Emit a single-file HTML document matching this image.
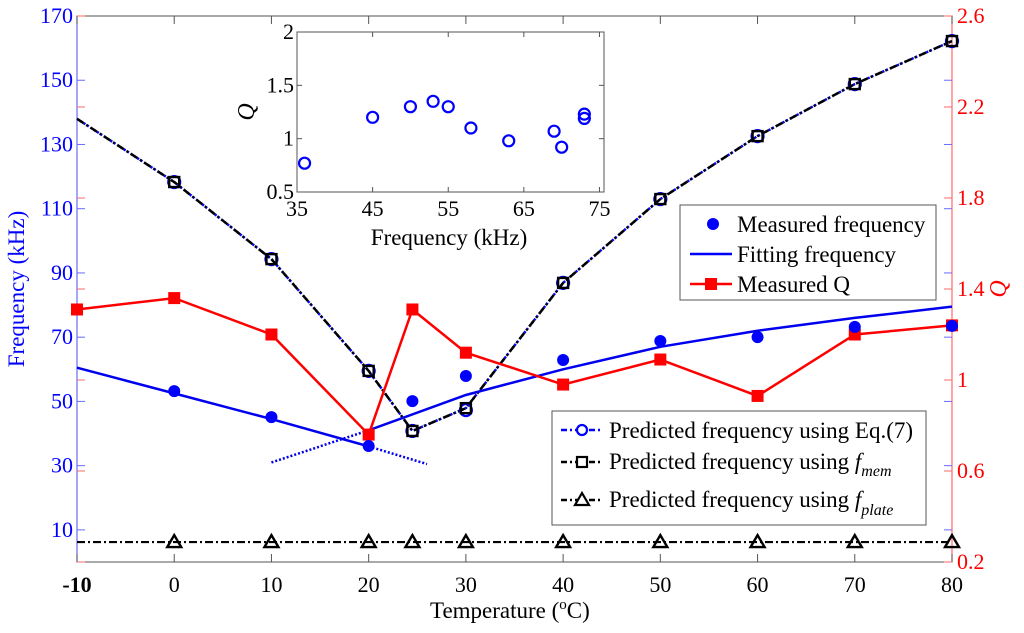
<!DOCTYPE html>
<html><head><meta charset="utf-8"><style>
html,body{margin:0;padding:0;background:#fff;}
svg, svg text{font-family:"Liberation Serif","Times New Roman","DejaVu Serif",serif;}
svg{display:block;}
</style></head><body>
<svg id="chart" width="1024" height="633" viewBox="0 0 1024 633" font-family="Liberation Serif, DejaVu Serif, serif"></svg>
<script>
// ---- data ----
const tempsQ = [-10, 0, 10, 20, 24.5, 30, 40, 50, 60, 70, 80];
const measuredQ = [1.31, 1.36, 1.20, 0.76, 1.31, 1.12, 0.98, 1.09, 0.93, 1.20, 1.24];
const tempsMeas = [0, 10, 20, 24.5, 30, 40, 50, 60, 70, 80];
const measuredFreq = [53.2, 45.1, 36.1, 50.1, 57.9, 62.9, 68.8, 70, 73.2, 73.5];
const tempsFit1 = [-10, 0, 10, 20];
const fitFreq1 = [60.5, 52.5, 44.5, 36];
const tempsFit1Dot = [20, 26];
const fitFreq1Dot = [36, 30.5];
const tempsFit2 = [20, 30, 40, 50, 60, 70, 80];
const fitFreq2 = [41, 52, 60, 67, 72, 76, 79.5];
const tempsFit2Dot = [10, 20];
const fitFreq2Dot = [31, 41];
const tempsMem = [-10, 0, 10, 20, 24.5, 30, 40, 50, 60, 70, 80];
const memFreq = [138, 118.3, 94.3, 59.5, 40.8, 47.9, 86.9, 113, 132.6, 148.8, 162.2];
const eq7Temps = [0, 10, 20, 24.5, 30, 40, 50, 60, 70, 80];
const eq7Freq = [118.3, 94.3, 59.5, 40.8, 47.3, 86.9, 113, 132.6, 148.8, 162.2];
const tempsPlate = [-10, 0, 10, 20, 24.5, 30, 40, 50, 60, 70, 80];
const plateFreq = [6.2, 6.2, 6.2, 6.2, 6.2, 6.2, 6.2, 6.2, 6.2, 6.2, 6.2];
const xTicks = [-10, 0, 10, 20, 30, 40, 50, 60, 70, 80];
const yLeftTicks = [10, 30, 50, 70, 90, 110, 130, 150, 170];
const yRightTicks = [0.2, 0.6, 1, 1.4, 1.8, 2.2, 2.6];
const insetFreq = [36, 45, 50, 53, 55, 58, 63, 69, 70, 73, 73];
const insetQ = [0.77, 1.2, 1.3, 1.35, 1.3, 1.1, 0.98, 1.07, 0.92, 1.19, 1.23];
const insetXTicks = [35, 45, 55, 65, 75];
const insetYTicks = [0.5, 1, 1.5, 2];

// ---- axes ----
const L=77,R=952,T=16,B=562;
const sx=v=>L+(v+10)/90*(R-L);
const syL=v=>B-(v-0)/170*(B-T);
const syR=v=>B-(v-0.2)/2.4*(B-T);
const IL=297,IR=604,IT=32,IB=192;
const ix=v=>IL+(v-35)/40.6*(IR-IL);
const iy=v=>IB-(v-0.5)/1.5*(IB-IT);

const svg=document.getElementById('chart');
const NS='http://www.w3.org/2000/svg';
function mk(tag,attrs,parent){const e=document.createElementNS(NS,tag);for(const k in attrs)e.setAttribute(k,attrs[k]);(parent||svg).appendChild(e);return e;}
function txt(s,attrs,parent){attrs['font-family']='Liberation Serif, DejaVu Serif, serif';const e=mk('text',attrs,parent);e.textContent=s;return e;}
function pts(xs,ys,fx,fy){return xs.map((x,i)=>fx(x)+','+fy(ys[i])).join(' ');}

let e=mk('rect',{x:L,y:T,width:R-L,height:B-T,fill:'none',stroke:'#555','stroke-width':1});


e=mk('line',{x1:L,y1:T,x2:L,y2:B,stroke:'#6a6aff','stroke-width':1.2});


e=mk('line',{x1:R,y1:T,x2:R,y2:B,stroke:'#ff6a6a','stroke-width':1.2});



xTicks.forEach(t=>{
  mk('line',{x1:sx(t),y1:B,x2:sx(t),y2:B-8,stroke:'#555'});
  mk('line',{x1:sx(t),y1:T,x2:sx(t),y2:T+8,stroke:'#555'});
  const lb=txt(String(t),{x:sx(t),y:B+30,'text-anchor':'middle','font-size':22,fill:'#000','font-weight':t===-10?'bold':'normal'});
  
  
});
yLeftTicks.forEach(t=>{
  mk('line',{x1:L,y1:syL(t),x2:L+8,y2:syL(t),stroke:'#6a6aff'});
  mk('line',{x1:R,y1:syL(t),x2:R-8,y2:syL(t),stroke:'#6a6aff'});
  const lb=txt(String(t),{x:L-4,y:syL(t)+7,'text-anchor':'end','font-size':22,fill:'#0000ff'});
  
  
});
yRightTicks.forEach(t=>{
  mk('line',{x1:R,y1:syR(t),x2:R-8,y2:syR(t),stroke:'#ff6a6a'});
  mk('line',{x1:L,y1:syR(t),x2:L+8,y2:syR(t),stroke:'#ff6a6a'});
  const lb=txt(String(t),{x:R+5,y:syR(t)+7,'font-size':22,fill:'#ff0000'});
  
  
});
e=txt('',{x:430,y:618,'font-size':23,fill:'#000'});


e.innerHTML='Temperature (<tspan dy="-9" font-size="15">o</tspan><tspan dy="9">C)</tspan>';
e=txt('Frequency (kHz)',{x:24,y:289,'text-anchor':'middle','font-size':23,fill:'#0000ff',transform:'rotate(-90 24 289)'});


e=txt('Q',{x:1006,y:289,'text-anchor':'middle','font-size':24,'font-style':'italic',fill:'#ff0000',transform:'rotate(-90 1006 289)'});



e=mk('polyline',{points:pts(tempsPlate,plateFreq,sx,syL),fill:'none',stroke:'#000','stroke-width':2.2,'stroke-dasharray':'8 3 2 3'});


tempsPlate.slice(1).forEach((t,i)=>{
  const x=sx(t),y=syL(plateFreq[i+1]);
  const m=mk('polygon',{points:`${x},${y-7} ${x-7},${y+5} ${x+7},${y+5}`,fill:'none',stroke:'#000','stroke-width':2.4});
  
  
});
e=mk('polyline',{points:pts(tempsMem,memFreq,sx,syL),fill:'none',stroke:'#00f','stroke-width':2.5,'stroke-dasharray':'2 2'});


e=mk('polyline',{points:pts(tempsMem,memFreq,sx,syL),fill:'none',stroke:'#000','stroke-width':2.5,'stroke-dasharray':'8 3 2 3'});


eq7Temps.forEach((t,i)=>{
  const c=mk('circle',{cx:sx(t),cy:syL(eq7Freq[i]),r:6,fill:'none',stroke:'#00f','stroke-width':2.2});
  
  
});
tempsMem.slice(1).forEach((t,i)=>{
  const s=mk('rect',{x:sx(t)-5,y:syL(memFreq[i+1])-5,width:10,height:10,fill:'none',stroke:'#000','stroke-width':2.4});
  
  
});
[[tempsFit1,fitFreq1,null],[tempsFit2,fitFreq2,null],[tempsFit1Dot,fitFreq1Dot,'2 2'],[tempsFit2Dot,fitFreq2Dot,'2 2']].forEach(([xs,ys,d])=>{
  const a={points:pts(xs,ys,sx,syL),fill:'none',stroke:'#0000ee','stroke-width':2.5};
  if(d)a['stroke-dasharray']=d;
  const p=mk('polyline',a);
  
  
});
e=mk('polyline',{points:pts(tempsQ,measuredQ,sx,syR),fill:'none',stroke:'#f00','stroke-width':2.5});


tempsQ.forEach((t,i)=>{
  const s=mk('rect',{x:sx(t)-6,y:syR(measuredQ[i])-6,width:12,height:12,fill:'#f00'});
  
  
});
tempsMeas.forEach((t,i)=>{
  const c=mk('circle',{cx:sx(t),cy:syL(measuredFreq[i]),r:6,fill:'#00f'});
  
  
});

const g1=mk('g',{});


mk('rect',{x:680,y:205,width:256,height:95,fill:'#fff',stroke:'#555'},g1);
mk('circle',{cx:713,cy:224,r:6,fill:'#00f'},g1);
txt('Measured frequency',{x:737,y:232,'font-size':23},g1);
mk('line',{x1:690,y1:254,x2:732,y2:254,stroke:'#00f','stroke-width':2.5},g1);
txt('Fitting frequency',{x:737,y:262,'font-size':23},g1);
mk('line',{x1:690,y1:284,x2:732,y2:284,stroke:'#f00','stroke-width':2.5},g1);
mk('rect',{x:705,y:278,width:12,height:12,fill:'#f00'},g1);
txt('Measured Q',{x:737,y:292,'font-size':23},g1);

const g2=mk('g',{});


mk('rect',{x:552,y:411,width:374,height:114,fill:'#fff',stroke:'#555'},g2);
mk('line',{x1:561,y1:430,x2:603,y2:430,stroke:'#00f','stroke-width':2.5,'stroke-dasharray':'6 3 2 3'},g2);
mk('circle',{cx:582,cy:430,r:5,fill:'#fff',stroke:'#00f','stroke-width':2.2},g2);
txt('Predicted frequency using Eq.(7)',{x:609,y:438,'font-size':23},g2);
mk('line',{x1:561,y1:462,x2:603,y2:462,stroke:'#000','stroke-width':2.5,'stroke-dasharray':'6 3 2 3'},g2);
mk('rect',{x:577,y:457,width:10,height:10,fill:'#fff',stroke:'#000','stroke-width':2.2},g2);
let t2=txt('',{x:609,y:469,'font-size':23},g2);
t2.innerHTML='Predicted frequency using <tspan font-style="italic">f</tspan><tspan font-style="italic" font-size="16" dy="7">mem</tspan>';
mk('line',{x1:561,y1:500,x2:603,y2:500,stroke:'#000','stroke-width':2.5,'stroke-dasharray':'6 3 2 3'},g2);
mk('polygon',{points:'582,493 575,505 589,505',fill:'#fff',stroke:'#000','stroke-width':2.2},g2);
t2=txt('',{x:609,y:507,'font-size':23},g2);
t2.innerHTML='Predicted frequency using <tspan font-style="italic">f</tspan><tspan font-style="italic" font-size="16" dy="8">plate</tspan>';

const gi=mk('g',{});


mk('rect',{x:IL,y:IT,width:IR-IL,height:IB-IT,fill:'#fff',stroke:'#555'},gi);
insetXTicks.forEach(t=>{
  mk('line',{x1:ix(t),y1:IB,x2:ix(t),y2:IB-5,stroke:'#555'},gi);
  mk('line',{x1:ix(t),y1:IT,x2:ix(t),y2:IT+5,stroke:'#555'},gi);
  txt(String(t),{x:ix(t),y:IB+24,'text-anchor':'middle','font-size':22},gi);
});
insetYTicks.forEach(t=>{
  mk('line',{x1:IL,y1:iy(t),x2:IL+5,y2:iy(t),stroke:'#555'},gi);
  mk('line',{x1:IR,y1:iy(t),x2:IR-5,y2:iy(t),stroke:'#555'},gi);
  txt(String(t),{x:IL-3,y:iy(t)+7,'text-anchor':'end','font-size':22},gi);
});
txt('Frequency (kHz)',{x:449,y:245,'text-anchor':'middle','font-size':23},gi);
txt('Q',{x:254,y:112,'text-anchor':'middle','font-size':24,'font-style':'italic',transform:'rotate(-90 254 112)'},gi);
insetFreq.forEach((f,i)=>{
  const c=mk('circle',{cx:ix(f),cy:iy(insetQ[i]),r:5.5,fill:'none',stroke:'#00f','stroke-width':2.2},gi);
  
  
});
</script>
</body></html>
